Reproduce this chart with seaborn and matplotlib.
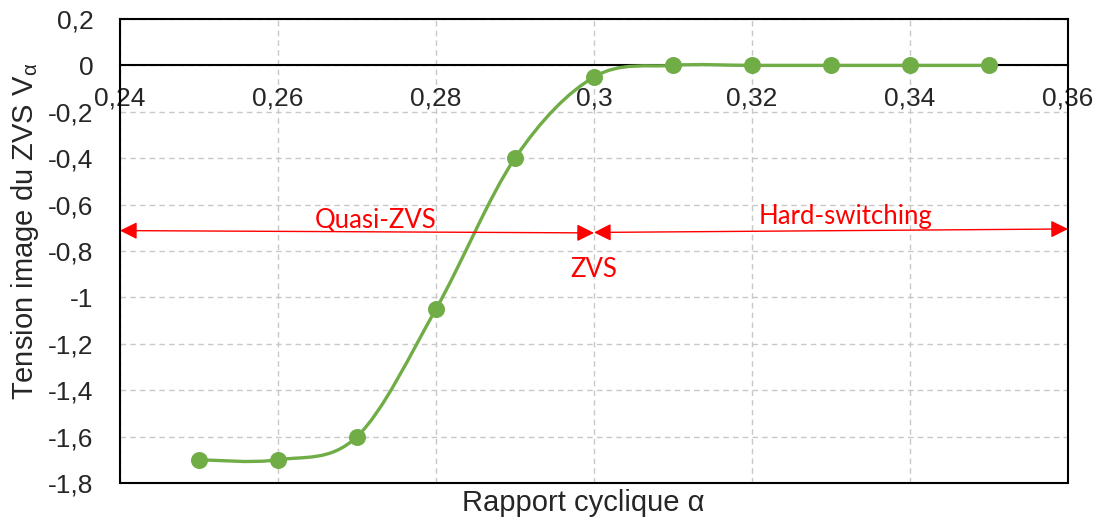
import numpy as np
import pandas as pd
import matplotlib
matplotlib.use("Agg")
import matplotlib.pyplot as plt
from matplotlib.path import Path
from matplotlib.patches import PathPatch
import seaborn as sns

# Duty cycle and ZVS image voltage
alpha = [0.25, 0.26, 0.27, 0.28, 0.29, 0.30, 0.31, 0.32, 0.33, 0.34, 0.35]
v_alpha = [-1.70, -1.70, -1.60, -1.05, -0.40, -0.05, 0.0, 0.0, 0.0, 0.0, 0.0]

x_ticks = [0.24, 0.26, 0.28, 0.30, 0.32, 0.34, 0.36]
x_tick_labels = ["0,24", "0,26", "0,28", "0,3", "0,32", "0,34", "0,36"]
y_ticks = [0.2, 0.0, -0.2, -0.4, -0.6, -0.8, -1.0, -1.2, -1.4, -1.6, -1.8]
y_tick_labels = ["0,2", "0", "-0,2", "-0,4", "-0,6", "-0,8", "-1", "-1,2", "-1,4", "-1,6", "-1,8"]

region_labels = ["Quasi-ZVS", "Hard-switching", "ZVS"]
boundary = 0.30

sns.set_style("white")
plt.rcParams["font.family"] = ["Liberation Sans", "DejaVu Sans"]
plt.rcParams["mathtext.fontset"] = "custom"
plt.rcParams["mathtext.rm"] = "Liberation Sans"
plt.rcParams["mathtext.it"] = "Liberation Sans"

green = "#70AD47"
df = pd.DataFrame({"alpha": alpha, "v": v_alpha})

fig = plt.figure(figsize=(11.02, 5.17), dpi=100)
ax = fig.add_axes([0.1089, 0.0658, 0.9691 - 0.1089, 0.9632 - 0.0658])

ax.set_xlim(0.24, 0.36)
ax.set_ylim(-1.8, 0.2)

# Smoothed curve through the points (Catmull-Rom as cubic Bezier segments)
pts = df[["alpha", "v"]].to_numpy()
n = len(pts)
verts = [tuple(pts[0])]
codes = [Path.MOVETO]
for i in range(n - 1):
    p_prev = pts[max(i - 1, 0)]
    p0 = pts[i]
    p1 = pts[i + 1]
    p_next = pts[min(i + 2, n - 1)]
    c1 = p0 + (p1 - p_prev) / 6.0
    c2 = p1 - (p_next - p0) / 6.0
    verts += [tuple(c1), tuple(c2), tuple(p1)]
    codes += [Path.CURVE4, Path.CURVE4, Path.CURVE4]
ax.add_patch(PathPatch(Path(verts, codes), facecolor="none", edgecolor=green,
                       lw=2.4, zorder=4, capstyle="round"))

sns.scatterplot(data=df, x="alpha", y="v", ax=ax, color=green, s=150,
                edgecolor=green, linewidth=0, zorder=5, legend=False)

# Grid
ax.set_xticks(x_ticks)
ax.set_yticks(y_ticks)
ax.grid(True, color="#c8c8c8", linestyle=(0, (4, 3)), linewidth=1.0)
ax.set_axisbelow(True)

# Horizontal axis crosses at zero
ax.spines["bottom"].set_position(("data", 0))
for s in ax.spines.values():
    s.set_color("black")
    s.set_linewidth(1.5)
ax.plot([0.24, 0.36], [-1.8, -1.8], color="black", lw=1.5, clip_on=False, zorder=6)

ax.set_xticklabels(x_tick_labels, fontsize=19)
ax.set_yticklabels(y_tick_labels, fontsize=19)
ax.tick_params(axis="both", length=0)
ax.tick_params(axis="y", pad=19)
ax.tick_params(axis="x", pad=15)

ax.set_xlabel("")
ax.set_ylabel("")
fig.text(583 / 1102, 1 - 511 / 517, "Rapport cyclique α", fontsize=21,
         ha="center", va="baseline")
fig.text(25 / 1102, 1 - 231 / 517, r"Tension image du ZVS V$_{\alpha}$", fontsize=21,
         rotation=90, ha="center", va="center")

# Operating regions
arrow_kw = dict(arrowstyle="<|-|>", color="red", lw=1.0, mutation_scale=26,
                shrinkA=0, shrinkB=0)
ax.annotate("", xy=(boundary, -0.722), xytext=(0.24, -0.712),
            arrowprops=arrow_kw, annotation_clip=False, zorder=7)
ax.annotate("", xy=(0.36, -0.705), xytext=(boundary, -0.72),
            arrowprops=arrow_kw, annotation_clip=False, zorder=7)

ax.text(0.2723, -0.702, region_labels[0], color="red", fontsize=18.5,
        family="Lato", ha="center", va="baseline", zorder=7)
ax.text(0.3318, -0.682, region_labels[1], color="red", fontsize=18.5,
        family="Lato", ha="center", va="baseline", zorder=7)
ax.text(boundary, -0.825, region_labels[2], color="red", fontsize=18.5,
        family="Lato", ha="center", va="top", zorder=7)

fig.savefig("out.png", dpi=100)
